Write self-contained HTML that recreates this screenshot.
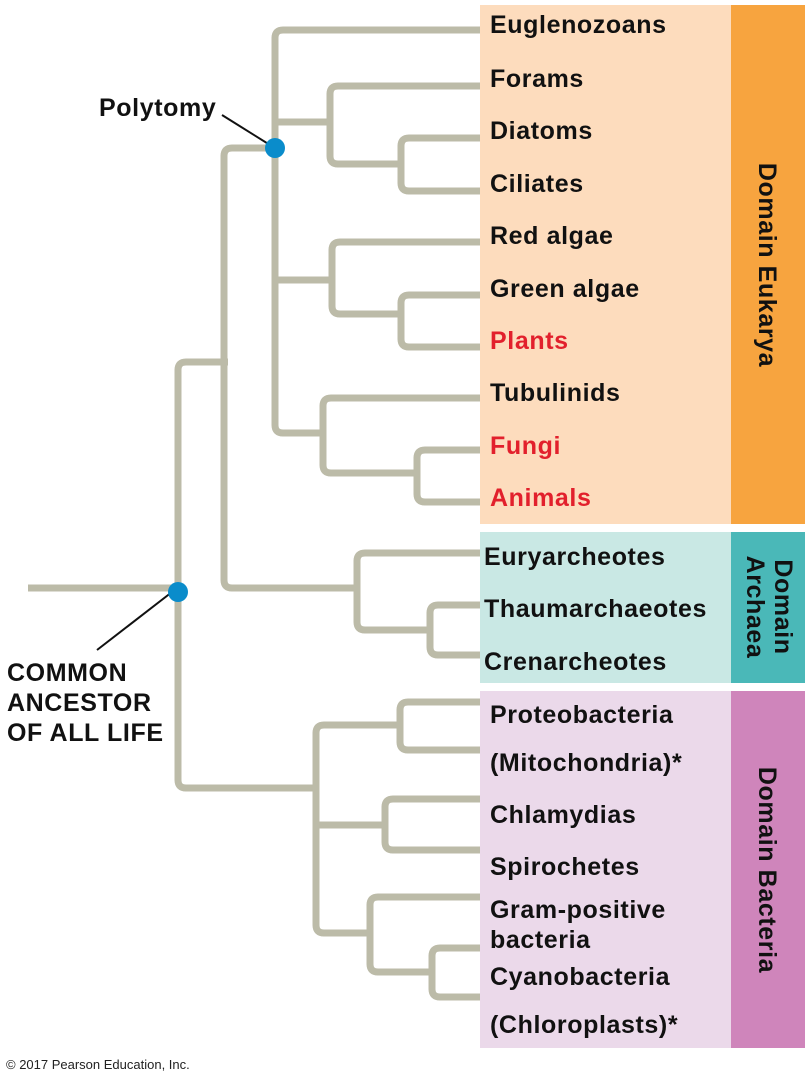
<!DOCTYPE html>
<html><head><meta charset="utf-8"><style>
body{margin:0;background:#fff}
svg{display:block}
text{font-family:"Liberation Sans",Arial,sans-serif;font-weight:bold}
.l{font-size:25px;letter-spacing:0.6px;fill:#111}
.r{fill:#e2202c}
.b{fill:none;stroke:#bcbba8;stroke-width:7;stroke-linejoin:round;stroke-linecap:butt}
</style></head><body>
<svg width="811" height="1080" viewBox="0 0 811 1080">
<rect x="480" y="5" width="251" height="519" fill="#fddcbd"/>
<rect x="731" y="5" width="74" height="519" fill="#f7a43f"/>
<rect x="480" y="532" width="251" height="151" fill="#c9e8e4"/>
<rect x="731" y="532" width="74" height="151" fill="#4ab8b8"/>
<rect x="480" y="691" width="251" height="357" fill="#ebd9ea"/>
<rect x="731" y="691" width="74" height="357" fill="#cf85bb"/>

<g class="b">
<path d="M28 588H178"/>
<path d="M480 30H283Q275 30 275 38V425Q275 433 283 433H323"/>
<path d="M275 122H330"/>
<path d="M480 86H338Q330 86 330 94V156Q330 164 338 164H401"/>
<path d="M480 138H409Q401 138 401 146V183Q401 191 409 191H480"/>
<path d="M275 280H332"/>
<path d="M480 242H340Q332 242 332 250V306Q332 314 340 314H401"/>
<path d="M480 295H409Q401 295 401 303V339Q401 347 409 347H480"/>
<path d="M480 398H331Q323 398 323 406V465Q323 473 331 473H417"/>
<path d="M480 450H425Q417 450 417 458V494Q417 502 425 502H480"/>
<path d="M275 148H232Q224 148 224 156V580Q224 588 232 588H357"/>
<path d="M228 362H186Q178 362 178 370V780Q178 788 186 788H316"/>
<path d="M480 553H365Q357 553 357 561V622Q357 630 365 630H430"/>
<path d="M480 605H438Q430 605 430 613V647Q430 655 438 655H480"/>
<path d="M400 725H324Q316 725 316 733V925Q316 933 324 933H370"/>
<path d="M480 702H408Q400 702 400 710V742Q400 750 408 750H480"/>
<path d="M316 825H385"/>
<path d="M480 799H393Q385 799 385 807V842Q385 850 393 850H480"/>
<path d="M480 897H378Q370 897 370 905V964Q370 972 378 972H430"/>
<path d="M480 948H440Q432 948 432 956V989Q432 997 440 997H480"/>
</g>
<line x1="222" y1="115" x2="270" y2="145" stroke="#111" stroke-width="2"/>
<line x1="97" y1="650" x2="172" y2="592" stroke="#111" stroke-width="2"/>
<circle cx="275" cy="148" r="10" fill="#0a8ccb"/>
<circle cx="178" cy="592" r="10" fill="#0a8ccb"/>

<text class="l" x="99" y="116">Polytomy</text>
<text class="l" x="7" y="681">COMMON</text>
<text class="l" x="7" y="711">ANCESTOR</text>
<text class="l" x="7" y="741">OF ALL LIFE</text>

<g>
<text class="l" x="490" y="33">Euglenozoans</text>
<text class="l" x="490" y="87">Forams</text>
<text class="l" x="490" y="139">Diatoms</text>
<text class="l" x="490" y="192">Ciliates</text>
<text class="l" x="490" y="244">Red algae</text>
<text class="l" x="490" y="297">Green algae</text>
<text class="l r" x="490" y="349">Plants</text>
<text class="l" x="490" y="401">Tubulinids</text>
<text class="l r" x="490" y="454">Fungi</text>
<text class="l r" x="490" y="506">Animals</text>
</g>
<g>
<text class="l" x="484" y="565">Euryarcheotes</text>
<text class="l" x="484" y="617">Thaumarchaeotes</text>
<text class="l" x="484" y="670">Crenarcheotes</text>
</g>
<g>
<text class="l" x="490" y="723">Proteobacteria</text>
<text class="l" x="490" y="771">(Mitochondria)*</text>
<text class="l" x="490" y="823">Chlamydias</text>
<text class="l" x="490" y="875">Spirochetes</text>
<text class="l" x="490" y="918">Gram-positive</text>
<text class="l" x="490" y="948">bacteria</text>
<text class="l" x="490" y="985">Cyanobacteria</text>
<text class="l" x="490" y="1033">(Chloroplasts)*</text>
</g>
<text class="l" transform="translate(759,265) rotate(90)" text-anchor="middle">Domain Eukarya</text>
<text class="l" transform="translate(775,607) rotate(90)" text-anchor="middle">Domain</text>
<text class="l" transform="translate(747,607) rotate(90)" text-anchor="middle">Archaea</text>
<text class="l" transform="translate(759,870) rotate(90)" text-anchor="middle">Domain Bacteria</text>
<text x="6" y="1069" style="font-weight:normal;font-size:13px;fill:#222">© 2017 Pearson Education, Inc.</text>
</svg>
</body></html>
